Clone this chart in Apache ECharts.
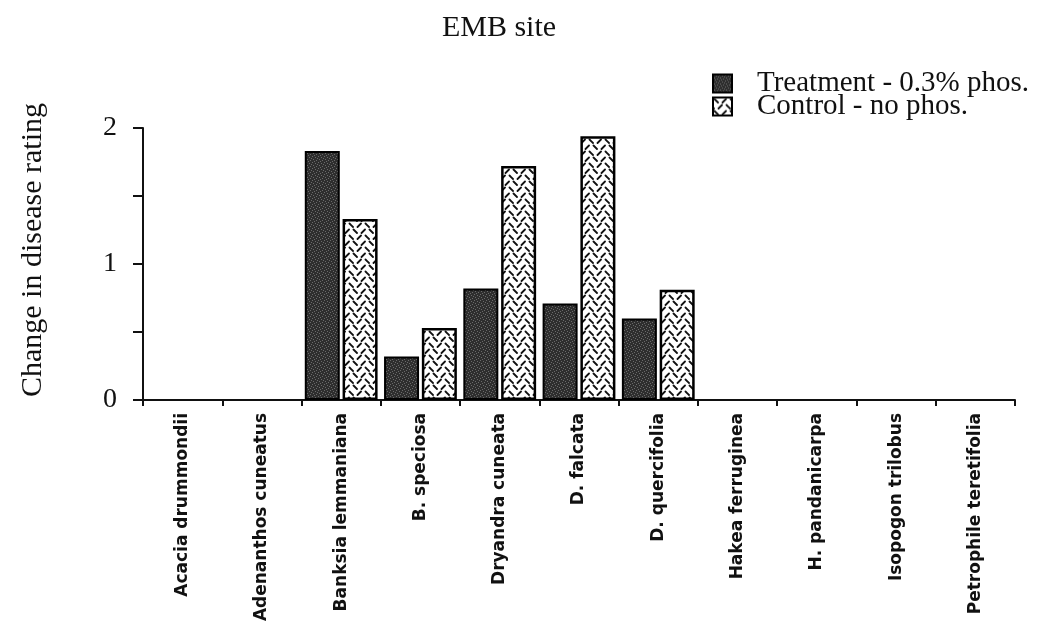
<!DOCTYPE html>
<html>
<head>
<meta charset="utf-8">
<script src="https://cdn.jsdelivr.net/npm/echarts@6/dist/echarts.min.js"></script>
<style>
html,body{margin:0;padding:0;background:#fff;}
#chart{width:1059px;height:633px;}
</style>
</head>
<body>
<div id="chart"></div>
<script>
const titleText = 'EMB site';
const yAxisName = 'Change in disease rating';
const categories = ['Acacia drummondii','Adenanthos cuneatus','Banksia lemmaniana','B. speciosa','Dryandra cuneata','D. falcata','D. quercifolia','Hakea ferruginea','H. pandanicarpa','Isopogon trilobus','Petrophile teretifolia'];
const seriesNames = ['Treatment - 0.3% phos.','Control - no phos.'];
const treatment = [0, 0, 1.83, 0.32, 0.82, 0.71, 0.60, 0, 0, 0, 0];
const control   = [0, 0, 1.33, 0.53, 1.72, 1.94, 0.81, 0, 0, 0, 0];

function makeStipple(){
  const c = document.createElement('canvas'); c.width = 6; c.height = 6;
  const g = c.getContext('2d');
  g.fillStyle = '#2e2e2e'; g.fillRect(0,0,6,6);
  g.fillStyle = '#6a6a6a';
  g.fillRect(0,0,1,1); g.fillRect(3,1,1,1); g.fillRect(1,3,1,1); g.fillRect(4,4,1,1);
  g.fillRect(2,5,1,1); g.fillRect(5,2,1,1);
  return c;
}
function makeDash(){
  const c = document.createElement('canvas'); c.width = 16; c.height = 12;
  const g = c.getContext('2d');
  g.fillStyle = '#ffffff'; g.fillRect(0,0,16,12);
  g.strokeStyle = '#111'; g.lineWidth = 1.8; g.lineCap = 'round';
  g.beginPath();
  g.moveTo(1.5,1.5); g.lineTo(5,5);
  g.moveTo(9.5,5); g.lineTo(13,1.5);
  g.moveTo(5.5,11); g.lineTo(9,7.5);
  g.moveTo(13.5,7.5); g.lineTo(17,11);
  g.moveTo(-2.5,7.5); g.lineTo(1,11);
  g.stroke();
  return c;
}
const stipple = {image: makeStipple(), repeat: 'repeat'};
const dash = {image: makeDash(), repeat: 'repeat'};
const noZero = arr => arr.map(v => (v === 0 ? '-' : v));

const chart = echarts.init(document.getElementById('chart'), null, {renderer:'canvas'});
const serif = '"Liberation Serif", "DejaVu Serif", serif';
chart.setOption({
  backgroundColor: '#fff',
  animation: false,
  title: {
    text: titleText, left: 494, top: 8, textAlign: 'center',
    textStyle: {fontFamily: serif, fontSize: 30, fontWeight: 'normal', color: '#111'}
  },
  legend: {
    orient: 'vertical', left: 712, top: 69, padding: 0, itemWidth: 19, itemHeight: 18, itemGap: -6,
    icon: 'rect',
    textStyle: {fontFamily: serif, fontSize: 29, lineHeight: 21, color: '#111', padding: [0,0,0,20]},
    data: seriesNames
  },
  grid: {left: 143, right: 44, top: 128, bottom: 233, containLabel: false},
  xAxis: {
    type: 'category', data: categories, boundaryGap: true,
    axisLine: {lineStyle: {color: '#111', width: 2}},
    axisTick: {show: true, alignWithLabel: false, length: 6, inside: false, lineStyle: {color: '#111', width: 2}},
    axisLabel: {rotate: 90, interval: 0, margin: 13, fontFamily: '"DejaVu Sans", sans-serif', fontWeight: 'bold', fontSize: 17, color: '#111'}
  },
  yAxis: {
    type: 'value', min: 0, max: 2, interval: 0.5,
    name: yAxisName, nameLocation: 'middle', nameGap: 95, nameRotate: 90,
    nameTextStyle: {fontFamily: serif, fontSize: 30, color: '#111', padding: [0,0,0,28]},
    axisLine: {show: true, lineStyle: {color: '#111', width: 2}},
    axisTick: {show: true, length: 10, lineStyle: {color: '#111', width: 2}},
    splitLine: {show: false},
    axisLabel: {
      margin: 26, fontFamily: serif, fontSize: 28, color: '#111',
      formatter: v => (Math.abs(v - Math.round(v)) < 1e-9 ? String(v) : '')
    }
  },
  series: [
    {name: seriesNames[0], type: 'bar', data: noZero(treatment), barWidth: 35, barGap: '8%',
     itemStyle: {color: stipple, borderColor: '#000', borderWidth: 2}},
    {name: seriesNames[1], type: 'bar', data: noZero(control), barWidth: 35,
     itemStyle: {color: dash, borderColor: '#000', borderWidth: 2.5}}
  ]
});
</script>
</body>
</html>
